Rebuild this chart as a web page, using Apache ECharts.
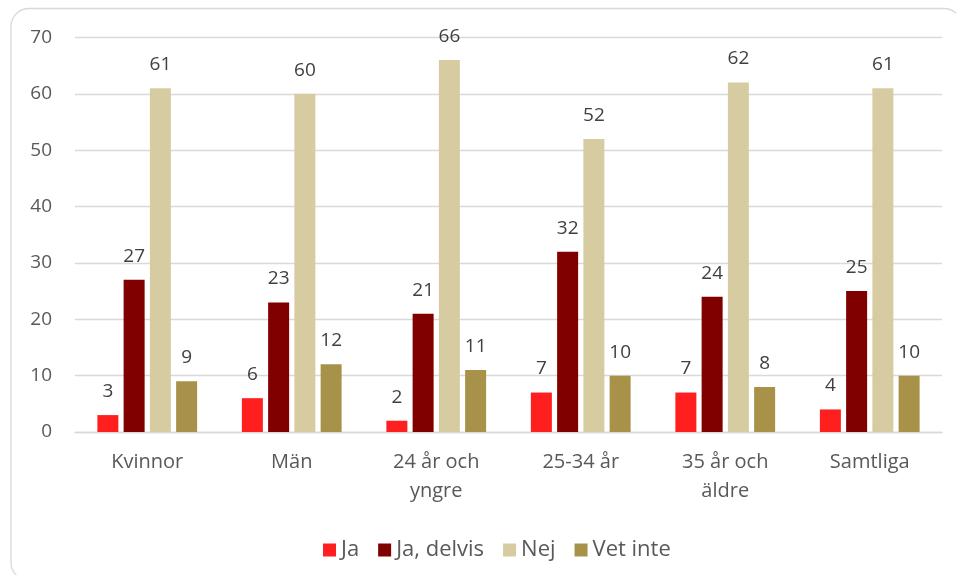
<!DOCTYPE html>
<html>
<head>
<meta charset="utf-8">
<script src="https://cdn.jsdelivr.net/npm/echarts@6/dist/echarts.min.js"></script>
<style>html,body{margin:0;padding:0;background:#fff;}#c{width:956px;height:575px;}</style>
</head>
<body>
<div id="c"></div>
<script>
const categories = ['Kvinnor', 'Män', '24 år och\nyngre', '25-34 år', '35 år och\näldre', 'Samtliga'];
const seriesNames = ['Ja', 'Ja, delvis', 'Nej', 'Vet inte'];
const ja = [3, 6, 2, 7, 7, 4];
const jaDelvis = [27, 23, 21, 32, 24, 25];
const nej = [61, 60, 66, 52, 62, 61];
const vetInte = [9, 12, 11, 10, 8, 10];
const colors = ['#FF1F1F', '#800000', '#D7CCA1', '#A8924A'];

const FONT = '"Open Sans", sans-serif';
const chart = echarts.init(document.getElementById('c'), null, {renderer: 'canvas'});
const values = [ja, jaDelvis, nej, vetInte];
chart.setOption({
  animation: false,
  color: colors,
  graphic: [{
    type: 'rect',
    shape: {x: 11, y: 8.5, width: 951, height: 572, r: 18},
    style: {fill: 'none', stroke: '#D9D9D9', lineWidth: 1.3},
    z: -1
  }],
  grid: {left: 75, right: 14, top: 37.5, bottom: 143, containLabel: false},
  legend: {
    data: seriesNames,
    left: 318,
    top: 534,
    itemWidth: 13,
    itemHeight: 13,
    itemGap: 19,
    icon: 'rect',
    textStyle: {fontFamily: FONT, fontSize: 22, color: '#595959', padding: [0, 0, 0, 0]}
  },
  xAxis: {
    type: 'category',
    data: categories,
    axisLine: {lineStyle: {color: '#D9D9D9', width: 1.3}},
    axisTick: {show: false},
    axisLabel: {fontFamily: FONT, fontSize: 20, color: '#595959', margin: 16, lineHeight: 29, interval: 0}
  },
  yAxis: {
    type: 'value',
    min: 0, max: 70, interval: 10,
    axisLine: {show: false},
    axisTick: {show: false},
    splitLine: {lineStyle: {color: '#D9D9D9', width: 1.3}},
    axisLabel: {fontFamily: FONT, fontSize: 19, color: '#595959', margin: 23}
  },
  series: seriesNames.map((name, i) => ({
    name: name,
    type: 'bar',
    data: values[i],
    barWidth: 21,
    barGap: '25%',
    itemStyle: {color: colors[i]},
    label: {show: true, position: 'top', distance: 14, fontFamily: FONT, fontSize: 19, color: '#404040'}
  }))
});
</script>
</body>
</html>
